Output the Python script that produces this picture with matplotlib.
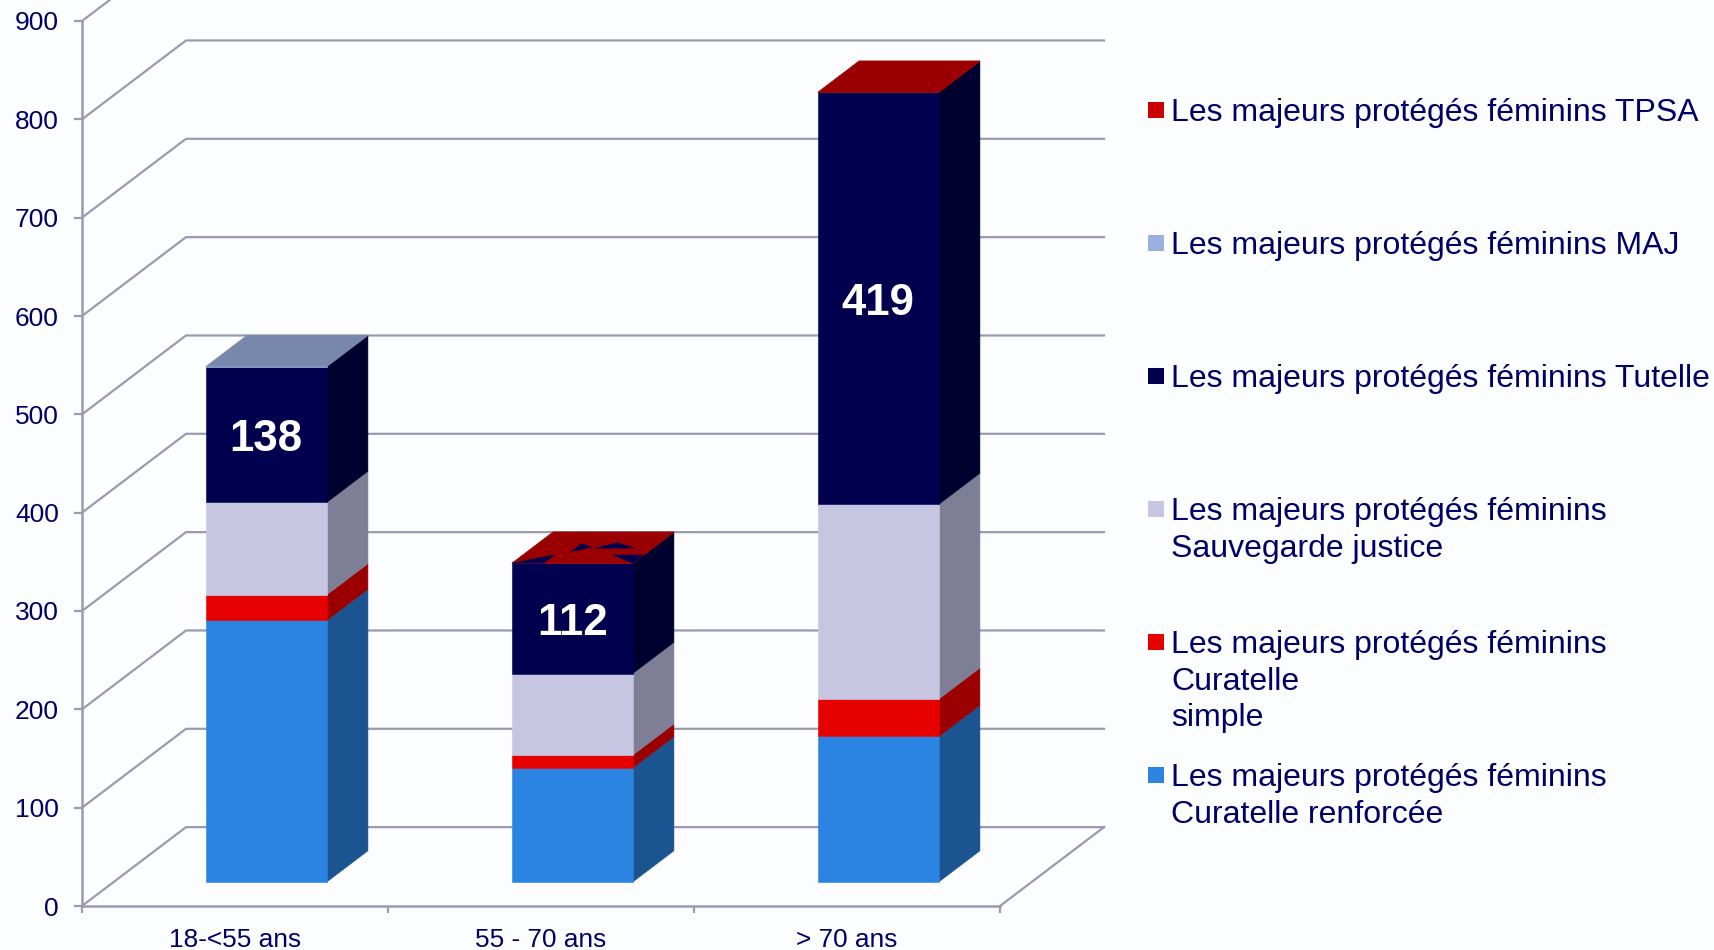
import matplotlib
matplotlib.use("Agg")
import matplotlib.pyplot as plt
from matplotlib.patches import Polygon, Rectangle

plt.rcParams["font.family"] = ["Liberation Sans", "DejaVu Sans"]

categories = ["18-<55 ans", "55 - 70 ans", "> 70 ans"]
curatelle_renforcee = [266, 116, 148]
curatelle_simple = [26, 13, 38]
sauvegarde = [94, 83, 198]
tutelle = [138, 112, 419]
maj = [0.3, 0, 0]
tpsa = [0, 0.3, 0.3]
y_ticks = [0, 100, 200, 300, 400, 500, 600, 700, 800, 900]

series = [curatelle_renforcee, curatelle_simple, sauvegarde, tutelle, maj, tpsa]
front_colors = ["#2B83E2", "#E60000", "#C6C6E2", "#00004F", "#99B0E0", "#CC0000"]
side_colors = ["#1B5490", "#9B0000", "#7E7E96", "#00002E", "#5A6A88", "#9B0000"]
top_colors = ["#1B5490", "#9B0000", "#7E7E96", "#00002E", "#7788AA", "#9B0000"]
show_label = [False, False, False, True, False, False]

legend_labels = [
    "Les majeurs protégés féminins TPSA",
    "Les majeurs protégés féminins MAJ",
    "Les majeurs protégés féminins Tutelle",
    "Les majeurs protégés féminins\nSauvegarde justice",
    "Les majeurs protégés féminins\nCuratelle\nsimple",
    "Les majeurs protégés féminins\nCuratelle renforcée",
]
legend_colors = ["#CC0000", "#99B0E0", "#00004F", "#C6C6E2", "#E60000", "#2B83E2"]
legend_rows = [110, 243, 376, 509, 642, 775]

bg = "#FCFDFF"
navy = "#000066"
grid_color = "#9A9AB0"

W, H = 1715, 950
fig = plt.figure(figsize=(W / 100, H / 100), dpi=100, facecolor=bg)
ax = fig.add_axes([82 / W, (H - 906) / H, 918 / W, 885 / H], facecolor="none")
ax.set_xlim(0, 3)
ax.set_ylim(0, 900)

# depth of the fake 3d box, in data units
depth_x = 104 / 306
depth_y = 80.2
bar_w = 0.395
near = 0.304
far = 0.70

# walls
for v in y_ticks:
    ax.plot([0, depth_x, 3 + depth_x], [v, v + depth_y, v + depth_y],
            color=grid_color, lw=1.6, clip_on=False, zorder=1)
ax.plot([3, 3 + depth_x], [0, depth_y], color=grid_color, lw=1.6, clip_on=False, zorder=1)


def face_point(x0, y0, u, v):
    # u along the bar width, v into the depth
    return (x0 + u * bar_w + v * (far - near) * depth_x, y0 + v * (far - near) * depth_y)


def add_face(points, color, z):
    ax.add_patch(Polygon(points, closed=True, facecolor=color, edgecolor=color, lw=0.4,
                         clip_on=False, zorder=z))


# pieces of the navy top showing through the red one on the middle bar
top_glitch = [
    [(0, 0), (0.267, 0.26), (0.26, 0)],
    [(1, 0), (0.746, 0.26), (1, 0.26)],
    [(0.367, 0.37), (0.363, 0.62), (0.482, 0.51)],
    [(0.52, 0.48), (0.655, 0.65), (0.85, 0.48)],
]

for i, cat in enumerate(categories):
    x0 = i + 0.5 + near * depth_x - bar_w / 2 - 0.001
    base = near * depth_y
    z = 3 + i
    for s, vals in enumerate(series):
        h = vals[i]
        if h <= 0:
            continue
        a = (x0, base)
        b = (x0 + bar_w, base)
        add_face([b, face_point(x0, base, 1, 1), face_point(x0, base + h, 1, 1), (x0 + bar_w, base + h)],
                 side_colors[s], z)
        add_face([a, b, (x0 + bar_w, base + h), (x0, base + h)], front_colors[s], z)
        if s + 1 == len(series) or sum(v[i] for v in series[s + 1:]) == 0:
            top = base + h
            add_face([face_point(x0, top, 0, 0), face_point(x0, top, 1, 0),
                      face_point(x0, top, 1, 1), face_point(x0, top, 0, 1)], top_colors[s], z + 0.1)
            if i == 1:
                for tri in top_glitch:
                    add_face([face_point(x0, top, u, v) for u, v in tri], "#00004F", z + 0.2)
        if show_label[s]:
            ax.text(x0 + bar_w / 2, base + h / 2 - 5, str(h), color="white", fontsize=31.5,
                    fontweight="bold", ha="center", va="center", zorder=z + 0.3)
        base += h

# axes
for side in ["top", "right"]:
    ax.spines[side].set_visible(False)
for side in ["left", "bottom"]:
    ax.spines[side].set_color(grid_color)
    ax.spines[side].set_linewidth(1.8)
    ax.spines[side].set_zorder(2)
ax.set_yticks(y_ticks)
ax.set_yticklabels([str(v) for v in y_ticks], fontsize=19, color=navy)
ax.set_xticks([0, 1, 2, 3])
ax.set_xticklabels([])
ax.set_xticks([0.5, 1.5, 2.5], minor=True)
ax.set_xticklabels(categories, minor=True, fontsize=18.9, color=navy)
ax.tick_params(axis="y", length=6, width=1.6, color=grid_color, pad=10.7)
ax.tick_params(axis="x", which="major", length=5, width=1.6, color=grid_color)
ax.tick_params(axis="x", which="minor", length=0, pad=15.5)

# legend
for label, color, row in zip(legend_labels, legend_colors, legend_rows):
    fig.add_artist(Rectangle((1148 / W, 1 - (row + 8) / H), 16 / W, 16 / H,
                             transform=fig.transFigure, facecolor=color, edgecolor="none"))
    fig.text(1171 / W, 1 - (row - 12) / H, label, fontsize=23, color=navy,
             ha="left", va="top", linespacing=1.29)

fig.savefig("out.png", dpi=100, facecolor=bg)
